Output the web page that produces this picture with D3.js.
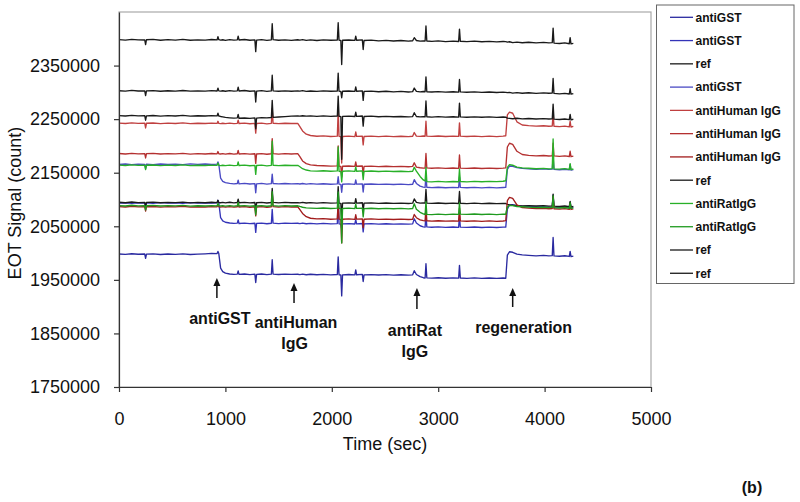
<!DOCTYPE html>
<html><head><meta charset="utf-8">
<script src="https://cdn.jsdelivr.net/npm/d3@7"></script>
<style>
body{margin:0;background:#fff}
svg{display:block}
text{font-family:"Liberation Sans",Arial,sans-serif;fill:#111}
</style>
</head><body>
<svg id="chart" width="800" height="502"></svg>
<script>
// ---------------- data ----------------
const times = [
0,60,120,180,242,250,258,320,390,460,
530,600,670,740,810,870,922,930,938,955,
975,1000,1040,1080,1112,1120,1128,1180,1230,1277,
1285,1293,1340,1390,1432,1440,1448,1500,1560,1620,
1680,1700,1725,1760,1800,1860,1920,1990,2052,2060,
2068,2085,2093,2101,2160,2217,2225,2233,2287,2295,
2303,2370,2440,2510,2580,2650,2720,2760,2775,2795,
2830,2860,2877,2885,2893,2940,3000,3070,3140,3192,
3200,3208,3270,3340,3410,3480,3550,3610,3635,3650,
3670,3700,3740,3790,3850,3920,3990,4040,4072,4080,
4088,4140,4190,4232,4240,4248,4270
];

const antiGST1 = [
1998300,1997500,1998800,1997800,1998200,1990000,1998000,1998500,1997400,1998200,
1997600,1998600,1997300,1998000,1998600,1999300,1999000,2003000,1999000,1972000,
1965500,1962500,1961000,1960200,1960800,1966500,1960100,1960900,1959800,1960600,
1945000,1960200,1960900,1959700,1960600,1987500,1960800,1960000,1960800,1960200,
1960500,1959900,1960700,1959600,1960400,1959500,1960300,1959400,1960000,1993000,
1959500,1959000,1920000,1959400,1960000,1959200,1968500,1959500,1960100,1947000,
1959300,1959900,1959000,1959700,1958900,1959500,1958800,1959400,1967000,1960000,
1956000,1954000,1953500,1980000,1953800,1953200,1953900,1953000,1953700,1953100,
1977000,1953500,1952900,1953700,1952800,1953500,1952700,1953400,1953000,1996000,
2002500,2001500,1998000,1996500,1995800,1994900,1995600,1994700,1995200,2029000,
1994800,1994100,1995000,1993700,2003000,1993400,1994400
];

const antiGST2 = [
2093200,2094000,2093000,2093800,2093300,2085000,2093600,2092900,2094100,2093300,
2093900,2092900,2094200,2093500,2094000,2093200,2093700,2098500,2093500,2066000,
2060000,2057500,2056200,2055300,2055900,2062000,2055200,2056000,2054900,2055700,
2038500,2055300,2056000,2054800,2055700,2081500,2055900,2055100,2055900,2055300,
2055600,2055000,2055800,2054700,2055500,2054600,2055400,2054500,2055100,2111000,
2054600,2054100,2045000,2054500,2055100,2054300,2062500,2054600,2055200,2039500,
2054400,2055000,2054100,2054800,2054000,2054600,2053900,2054500,2064000,2056000,
2051000,2049000,2048500,2074000,2048800,2048200,2048900,2048000,2048700,2048100,
2070000,2048500,2047900,2048700,2047800,2048500,2047700,2048400,2048500,2082000,
2090000,2090500,2088500,2087500,2086900,2086000,2086700,2085800,2086300,2108000,
2085900,2085200,2086100,2084800,2094500,2084500,2085500
];

const ref1 = [
2094800,2094000,2095300,2094300,2094700,2086500,2094500,2095000,2093900,2094700,
2094100,2095100,2093800,2094500,2094000,2094800,2094300,2098500,2094400,2093900,
2094600,2093800,2094800,2093700,2094400,2100500,2094000,2094700,2093600,2094400,
2077500,2094000,2094700,2093500,2094400,2120500,2094600,2093800,2094600,2094000,
2094300,2093700,2094500,2093400,2094200,2093300,2094100,2093200,2093800,2124000,
2093300,2092800,2063000,2093200,2093800,2093000,2101500,2093300,2093900,2078500,
2093100,2093700,2092800,2093500,2092700,2093300,2092600,2093200,2101000,2094500,
2093200,2093800,2093100,2119000,2093300,2092700,2093400,2092500,2093200,2092600,
2115000,2093000,2092400,2093200,2092300,2093000,2092200,2092900,2092500,2091000,
2090000,2089200,2088600,2088100,2088700,2087800,2088500,2087600,2088100,2110000,
2087700,2087000,2087900,2086600,2096500,2086300,2087300
];

const antiGST3 = [
2165600,2166300,2165200,2166000,2165500,2157500,2165800,2165100,2166300,2165500,
2166100,2165100,2166400,2165700,2166200,2165400,2165900,2170000,2165500,2140000,
2134000,2131500,2130000,2129300,2129900,2136000,2129200,2130000,2128900,2129700,
2112500,2129300,2130000,2128800,2129700,2147500,2129900,2129100,2129900,2129300,
2129600,2129000,2129800,2128700,2129500,2128600,2129400,2128500,2129100,2142500,
2128600,2128100,2113500,2128500,2129100,2128300,2136500,2128600,2129200,2114000,
2128400,2129000,2128100,2128800,2128000,2128600,2127900,2128500,2137000,2130000,
2125000,2123000,2122500,2146500,2122800,2122200,2122900,2122000,2122700,2122100,
2142500,2122500,2121900,2122700,2121800,2122500,2121700,2122400,2122500,2156000,
2162500,2162000,2159500,2158000,2157300,2156400,2157100,2156200,2156700,2179000,
2156300,2155600,2156500,2155200,2165500,2154900,2155900
];

const antiHuman1 = [
2242500,2241800,2243000,2242000,2242500,2233500,2242300,2242800,2241700,2242500,
2241900,2242900,2241600,2242300,2241800,2242600,2242000,2246000,2242100,2241700,
2242400,2241600,2242600,2241500,2242200,2248000,2241800,2242500,2241400,2242200,
2224000,2241800,2242500,2241300,2242200,2270000,2242400,2241600,2242400,2241800,
2242000,2236000,2228000,2222000,2219500,2218000,2218800,2217600,2218300,2266000,
2217900,2217200,2168000,2217600,2218200,2217400,2226000,2217800,2218400,2202000,
2217600,2218300,2217500,2218200,2217400,2218100,2217300,2218000,2225000,2218400,
2217800,2218600,2218100,2246000,2218200,2217700,2218500,2217600,2218300,2217800,
2243000,2218200,2217600,2218400,2217500,2218300,2217400,2218200,2219000,2258000,
2263000,2261000,2245000,2239000,2237800,2236900,2237600,2236700,2237200,2261000,
2236800,2236000,2237000,2235600,2246000,2235300,2236400
];

const antiHuman2 = [
2185800,2185000,2186200,2185300,2185700,2177500,2185500,2186000,2184900,2185700,
2185100,2186100,2184800,2185500,2185000,2185800,2185300,2189500,2185400,2184900,
2185600,2184800,2185800,2184700,2185400,2191500,2185000,2185700,2184600,2185400,
2167500,2185000,2185700,2184500,2185400,2213500,2185600,2184800,2185600,2185000,
2185500,2180000,2172000,2167000,2164500,2163500,2163000,2162300,2162800,2200000,
2162200,2161600,2142000,2162000,2162500,2161700,2170000,2162000,2162600,2146000,
2161700,2162300,2161400,2162100,2161300,2161900,2161200,2161800,2168500,2160500,
2159300,2158700,2158600,2186000,2158900,2158300,2159000,2158100,2158800,2158200,
2183000,2158600,2158000,2158800,2157900,2158600,2157800,2158500,2159000,2198000,
2205000,2203000,2190000,2184000,2182300,2181400,2182100,2181200,2181700,2205000,
2181300,2180600,2181500,2180200,2190000,2179900,2180900
];

const antiHuman3 = [
2086800,2086000,2087300,2086300,2086700,2078500,2086500,2087000,2085900,2086700,
2086100,2087100,2085800,2086500,2086000,2086800,2086300,2090500,2086400,2085900,
2086600,2085800,2086800,2085700,2086400,2092500,2086000,2086700,2085600,2086400,
2069500,2086000,2086700,2085500,2086400,2112500,2086600,2085800,2086600,2086000,
2086500,2081000,2074000,2068000,2065000,2063800,2064300,2063200,2063800,2094000,
2063300,2062800,2019000,2063200,2063800,2063000,2071500,2063300,2063900,2047500,
2063100,2063700,2062800,2063500,2062700,2063300,2062600,2063200,2072000,2066000,
2062000,2060500,2060000,2086000,2060300,2059700,2060400,2059500,2060200,2059600,
2084000,2060000,2059400,2060200,2059300,2060000,2059200,2059900,2060500,2098000,
2104000,2102000,2090000,2085000,2083800,2082900,2083600,2082700,2083200,2105000,
2082800,2082100,2083000,2081700,2092000,2081400,2082400
];

const ref2 = [
2256500,2255800,2257000,2256000,2256400,2248000,2256200,2256800,2255700,2256500,
2255900,2256900,2255600,2256300,2255800,2256600,2256000,2261000,2255900,2255000,
2254200,2253300,2252500,2251800,2252300,2259000,2251600,2252200,2251500,2252400,
2232000,2252000,2252800,2252300,2253000,2285000,2253400,2254000,2254800,2255500,
2256000,2255600,2256300,2255500,2256100,2255200,2256000,2255300,2255800,2293000,
2255400,2254800,2175000,2255200,2255700,2254900,2263000,2255200,2255800,2237000,
2254900,2255500,2254500,2255200,2254400,2255000,2254200,2254800,2262000,2255000,
2254100,2254800,2254300,2284000,2254400,2253900,2254600,2253700,2254400,2253800,
2280000,2254200,2253600,2254300,2253500,2254100,2253300,2254000,2253600,2252000,
2251500,2250800,2251600,2250400,2251200,2250200,2250900,2250300,2250700,2278000,
2250000,2249400,2250300,2249000,2259000,2248800,2249800
];

const antiRat1 = [
2164200,2163400,2164700,2163700,2164100,2156000,2163900,2164400,2163300,2164100,
2163500,2164500,2163200,2163900,2163400,2164200,2163700,2168000,2163800,2163300,
2164000,2163200,2164200,2163100,2163800,2170000,2163400,2164100,2163000,2163800,
2147000,2163400,2164100,2162900,2163800,2209000,2164000,2163200,2164000,2163400,
2163800,2161000,2157500,2155000,2153500,2153000,2153600,2152700,2153300,2198000,
2152800,2152300,2133000,2152700,2153300,2152500,2161000,2152800,2153400,2137000,
2152600,2153200,2152300,2153000,2152200,2152800,2152100,2152700,2160000,2153000,
2143000,2136500,2134500,2160000,2133500,2133000,2133700,2132900,2133600,2133100,
2157000,2133600,2133000,2133800,2133200,2133900,2133300,2134000,2135000,2160000,
2165000,2164000,2160500,2159000,2158300,2157400,2158100,2157200,2157700,2213000,
2157300,2156600,2157500,2156200,2167000,2155900,2156900
];

const antiRat2 = [
2088700,2087900,2089200,2088200,2088600,2080500,2088400,2088900,2087800,2088600,
2088000,2089000,2087700,2088400,2087900,2088700,2088200,2092500,2088300,2087800,
2088500,2087700,2088700,2087600,2088300,2094500,2087900,2088600,2087500,2088300,
2071500,2087900,2088600,2087400,2088300,2114500,2088500,2087700,2088500,2087900,
2088300,2087000,2085500,2084500,2084000,2083300,2084100,2083200,2083800,2114000,
2083300,2082800,2019000,2083200,2083800,2083000,2091500,2083300,2083900,2067500,
2083100,2083700,2082800,2083500,2082700,2083300,2082600,2083200,2092000,2082000,
2076000,2073000,2072000,2096000,2072300,2071800,2072600,2071900,2072700,2072200,
2094000,2072700,2072100,2072900,2072000,2072700,2071900,2072600,2072500,2086000,
2089000,2088500,2087000,2086500,2085800,2084900,2085600,2084700,2085200,2107000,
2084800,2084100,2085000,2083700,2094000,2083400,2084400
];

const ref3 = [
2303000,2302200,2303600,2302500,2302900,2294000,2302700,2303300,2302100,2303000,
2302400,2303500,2302200,2302900,2302300,2303200,2302600,2308000,2302800,2302200,
2303000,2302100,2303300,2302400,2302900,2309500,2302600,2303400,2302100,2302800,
2282000,2302300,2303100,2301900,2302800,2332000,2302900,2302000,2302900,2302000,
2302900,2302300,2303200,2301900,2302600,2301800,2302900,2302100,2302600,2336000,
2302200,2301600,2290000,2302000,2302600,2301700,2310000,2302100,2302700,2285000,
2301700,2302300,2301200,2302000,2301000,2301800,2300700,2301400,2308000,2301900,
2300900,2301600,2301100,2329000,2301200,2300600,2301400,2300300,2301100,2300400,
2324000,2300800,2300200,2301000,2300000,2300700,2299800,2300500,2300100,2299400,
2300000,2298600,2299600,2298400,2299300,2298200,2299100,2298300,2298700,2326000,
2298000,2297300,2298200,2296900,2307000,2296600,2297600
];

const ref4 = [
2398500,2397500,2399000,2398000,2397800,2389000,2398200,2398800,2397200,2398400,
2397600,2398900,2397300,2398100,2397500,2398600,2397900,2404000,2398300,2397600,
2398200,2397100,2398500,2397400,2398000,2405000,2397800,2398600,2397200,2398000,
2376000,2397500,2398300,2396900,2398100,2428000,2398400,2397200,2398000,2397100,
2398200,2397600,2398500,2397000,2397900,2396800,2398100,2397300,2397800,2430000,
2397500,2396800,2352000,2397200,2397800,2396900,2405000,2397300,2397900,2380000,
2396800,2397500,2396200,2397000,2395900,2396800,2395600,2396300,2402000,2396800,
2395500,2396200,2395800,2424000,2395900,2395200,2396000,2394800,2395700,2394900,
2418000,2395400,2394700,2395600,2394500,2395300,2394200,2395000,2394600,2393800,
2394500,2392800,2393900,2392600,2393600,2392400,2393300,2392500,2392900,2420000,
2392000,2391200,2392300,2390800,2402000,2390500,2391500
];

const seriesNames = ["antiGST","antiGST","ref","antiGST","antiHuman IgG","antiHuman IgG",
  "antiHuman IgG","ref","antiRatIgG","antiRatIgG","ref","ref"];
const seriesValues = [antiGST1, antiGST2, ref1, antiGST3, antiHuman1, antiHuman2,
  antiHuman3, ref2, antiRat1, antiRat2, ref3, ref4];
const seriesColors = ["#2a2aa0","#3434b8","#1a1a1a","#4a4ac4","#c04040","#b43030",
  "#a21c1c","#1a1a1a","#28b028","#1f9a1f","#1a1a1a","#1a1a1a"];

const yTickValues = [1750000,1850000,1950000,2050000,2150000,2250000,2350000];
const xTickValues = [0,1000,2000,3000,4000,5000];

const eventTimes = [920, 1645, 2800, 3700];
const eventLabels = [["antiGST"],["antiHuman","IgG"],["antiRat","IgG"],["regeneration"]];

// ---------------- drawing ----------------
const svg = d3.select("#chart");
const X0 = 119, X1 = 651, Y0 = 387, Y1 = 12;
const x = d3.scaleLinear().domain([0,5000]).range([X0,X1]);
const y = d3.scaleLinear().domain([1750000,2450000]).range([Y0,Y1]);

seriesValues.forEach((s,i)=>{ if(s.length!==times.length){
  svg.append("text").attr("x",200).attr("y",20+i*14).style("fill","red").style("font-size","12px")
   .text("series "+i+" len "+s.length+" vs "+times.length);}});

// plot frame (gray)
svg.append("rect").attr("x",X0).attr("y",Y1).attr("width",X1-X0).attr("height",Y0-Y1)
  .attr("fill","none").attr("stroke","#a9a9a9").attr("stroke-width",1.2);

// lines
const line = d3.line().x((d,i)=>x(times[i])).y(d=>y(d));
const g = svg.append("g");
seriesValues.forEach((vals,i)=>{
  g.append("path").datum(vals).attr("d",line).attr("fill","none")
   .attr("stroke",seriesColors[i]).attr("stroke-width",1.35).attr("stroke-linejoin","round");
});

// axes
const yAxis = d3.axisLeft(y).tickValues(yTickValues).tickFormat(d3.format("d"))
  .tickSize(5).tickSizeOuter(0).tickPadding(14);
const ya = svg.append("g").attr("transform",`translate(${X0},0)`).call(yAxis);
const xAxis = d3.axisBottom(x).tickValues(xTickValues).tickFormat(d3.format("d"))
  .tickSize(5).tickSizeOuter(0).tickPadding(20);
const xa = svg.append("g").attr("transform",`translate(0,${Y0})`).call(xAxis);
[ya,xa].forEach(a=>{
  a.selectAll("path,line").attr("stroke","#333").attr("stroke-width",1.2);
  a.selectAll("text").style("font-size","18px").style("font-family","'Liberation Sans',Arial,sans-serif").attr("fill","#111");
});

// axis titles
svg.append("text").attr("transform","translate(21,203) rotate(-90)").attr("text-anchor","middle")
  .style("font-size","18px").text("EOT Signal (count)");
svg.append("text").attr("x",(X0+X1)/2).attr("y",450).attr("text-anchor","middle")
  .style("font-size","18px").text("Time (sec)");

// annotations
const arrowTops = [278,283,288,288];
const arrowLens = [20,20,21,19];
const labelDx = [3,2,-2,11];
const labelBase = [324,328,336,333];
eventTimes.forEach((t,i)=>{
  const ax = x(t);
  svg.append("line").attr("x1",ax).attr("x2",ax).attr("y1",arrowTops[i]+6).attr("y2",arrowTops[i]+arrowLens[i])
    .attr("stroke","#111").attr("stroke-width",1.5);
  svg.append("path").attr("d",`M${ax},${arrowTops[i]} L${ax-3.5},${arrowTops[i]+8} L${ax+3.5},${arrowTops[i]+8} Z`)
    .attr("fill","#111");
  eventLabels[i].forEach((lab,j)=>{
    svg.append("text").attr("x",ax+labelDx[i]+(j>0?(i===1?-1.5:0):0)).attr("y",labelBase[i]+j*21)
      .attr("text-anchor","middle").style("font-size","16px").style("font-weight","bold").text(lab);
  });
});

// legend
const L = svg.append("g");
L.append("rect").attr("x",656.5).attr("y",5).attr("width",137.5).attr("height",278.5)
  .attr("fill","#fff").attr("stroke","#666").attr("stroke-width",1);
seriesNames.forEach((n,i)=>{
  const ly = 17.3 + i*23.27;
  L.append("line").attr("x1",670).attr("x2",693).attr("y1",ly).attr("y2",ly)
    .attr("stroke",seriesColors[i]).attr("stroke-width",1.3);
  L.append("text").attr("x",695.5).attr("y",ly).attr("dy","0.36em")
    .style("font-size","12px").style("font-weight","bold").text(n);
});

// panel tag
svg.append("text").attr("x",752).attr("y",493).attr("text-anchor","middle")
  .style("font-size","16px").style("font-weight","bold").text("(b)");
</script>
</body></html>
